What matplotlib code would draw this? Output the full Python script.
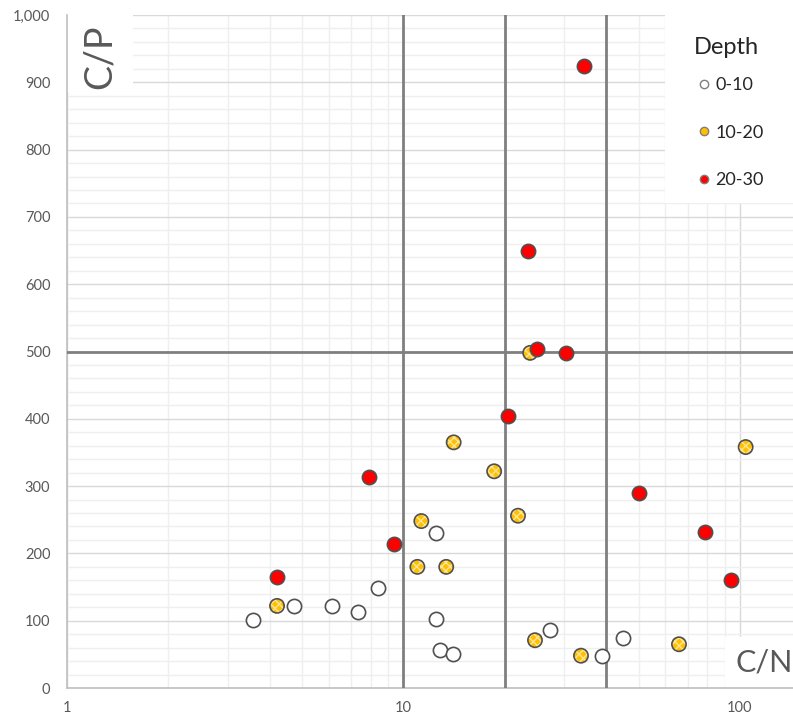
import matplotlib.pyplot as plt
from matplotlib.lines import Line2D
from matplotlib.patches import Rectangle
from matplotlib.ticker import FixedLocator, FuncFormatter, MultipleLocator

plt.rcParams['font.family'] = ['Lato', 'DejaVu Sans']
plt.rcParams['hatch.linewidth'] = 1.0

# C/N and C/P by depth
cn_0_10 = [3.57, 4.73, 6.13, 7.32, 8.40, 12.5, 12.5, 12.8, 14.0, 27.3, 38.8, 45.0]
cp_0_10 = [101, 122, 122, 113, 149, 230, 102, 57, 50, 86, 48, 74]

cn_10_20 = [23.8, 14.1, 18.6, 21.9, 11.3, 11.0, 13.4, 104, 4.21, 24.6, 33.7, 65.9]
cp_10_20 = [498, 365, 322, 256, 248, 180, 180, 358, 122, 71, 48, 65]

cn_20_30 = [34.4, 23.4, 24.9, 30.4, 20.4, 7.9, 9.37, 4.21, 50.1, 78.7, 94.0]
cp_20_30 = [924, 649, 504, 498, 404, 313, 214, 165, 290, 232, 160]

depth_labels = ['0-10', '10-20', '20-30']
cn_limits = [10, 20, 40]
cp_limit = 500

fig = plt.figure(figsize=(7.93, 7.19), dpi=100)
ax = fig.add_axes([67 / 793, 31 / 719, 726 / 793, 673 / 719])

ax.set_xscale('log')
ax.set_xlim(1, 143.8)
ax.set_ylim(0, 1000)

# gridlines
ax.yaxis.set_major_locator(MultipleLocator(100))
ax.yaxis.set_minor_locator(MultipleLocator(20))
ax.xaxis.set_major_locator(FixedLocator([1, 10, 100]))
ax.xaxis.set_minor_locator(FixedLocator([d * 10 ** k for k in range(3) for d in range(2, 10)]))
ax.xaxis.set_major_formatter(FuncFormatter(lambda v, p: f"{v:,.0f}"))
ax.xaxis.set_minor_formatter(FuncFormatter(lambda v, p: ""))
ax.yaxis.set_major_formatter(FuncFormatter(lambda v, p: f"{v:,.0f}"))
ax.grid(which='major', color='#d9d9d9', linewidth=1.0, zorder=0)
ax.grid(which='minor', color='#efefef', linewidth=1.0, zorder=0)
ax.set_axisbelow(True)
ax.tick_params(which='both', length=0, colors='#595959', labelsize=10.5)
ax.tick_params(axis='x', pad=9)
ax.tick_params(axis='y', pad=12)
for s in ['top', 'right']:
    ax.spines[s].set_visible(False)
for s in ['left', 'bottom']:
    ax.spines[s].set_color('#bfbfbf')
    ax.spines[s].set_linewidth(1.2)

# axis titles inside the plot, on white patches
ax.add_patch(Rectangle((0, 0.8856), 0.0909, 0.1144, transform=ax.transAxes,
                       facecolor='white', edgecolor='none', zorder=2))
ax.text(0.0455, 0.9376, "C/P", transform=ax.transAxes, rotation=90, fontsize=27,
        color='#595959', ha='center', va='center', zorder=2)
ax.add_patch(Rectangle((0.9063, 0.002), 0.0937, 0.0738, transform=ax.transAxes,
                       facecolor='white', edgecolor='none', zorder=2))
ax.text(0.9610, 0.0386, "C/N", transform=ax.transAxes, fontsize=22,
        color='#595959', ha='center', va='center', zorder=2)

for v in cn_limits:
    ax.axvline(v, color='#7f7f7f', linewidth=2.0, zorder=3)
ax.axhline(cp_limit, color='#7f7f7f', linewidth=2.0, zorder=3)

ms = 105
edge = '#505050'
ax.scatter(cn_0_10, cp_0_10, s=ms, facecolor='white', edgecolor=edge, linewidth=1.2, zorder=4)
ax.scatter(cn_10_20, cp_10_20, s=ms, facecolor='#ffc000', edgecolor='#ffe69a',
           hatch='xxxx', linewidth=0, zorder=4)
ax.scatter(cn_10_20, cp_10_20, s=ms, facecolor='none', edgecolor=edge, linewidth=1.2, zorder=4)
ax.scatter(cn_20_30, cp_20_30, s=ms, facecolor='#ff0000', edgecolor=edge, linewidth=1.2, zorder=5)

# legend: white panel, title and entries
ax.add_patch(Rectangle((0.8237, 0.7207), 0.1763, 0.2793, transform=ax.transAxes,
                       facecolor='white', edgecolor='none', zorder=6))
ax.text(0.9077, 0.951, "Depth", transform=ax.transAxes, fontsize=17,
        color='#262626', ha='center', va='center', zorder=7)
faces = ['white', '#ffc000', '#ff0000']
handles = [Line2D([], [], marker='o', linestyle='none', markersize=6, markerfacecolor=fc,
                  markeredgecolor='#7f7f7f', markeredgewidth=1.0, label=lab)
           for fc, lab in zip(faces, depth_labels)]
leg = ax.legend(handles=handles, loc='upper left', bbox_to_anchor=(0.8678, 0.908),
                frameon=False, fontsize=13, labelspacing=1.75, handletextpad=0.2,
                handlelength=0.8, borderpad=0, borderaxespad=0)
leg.set_zorder(7)
for t in leg.get_texts():
    t.set_color('#262626')

fig.savefig('out.png', dpi=100)
